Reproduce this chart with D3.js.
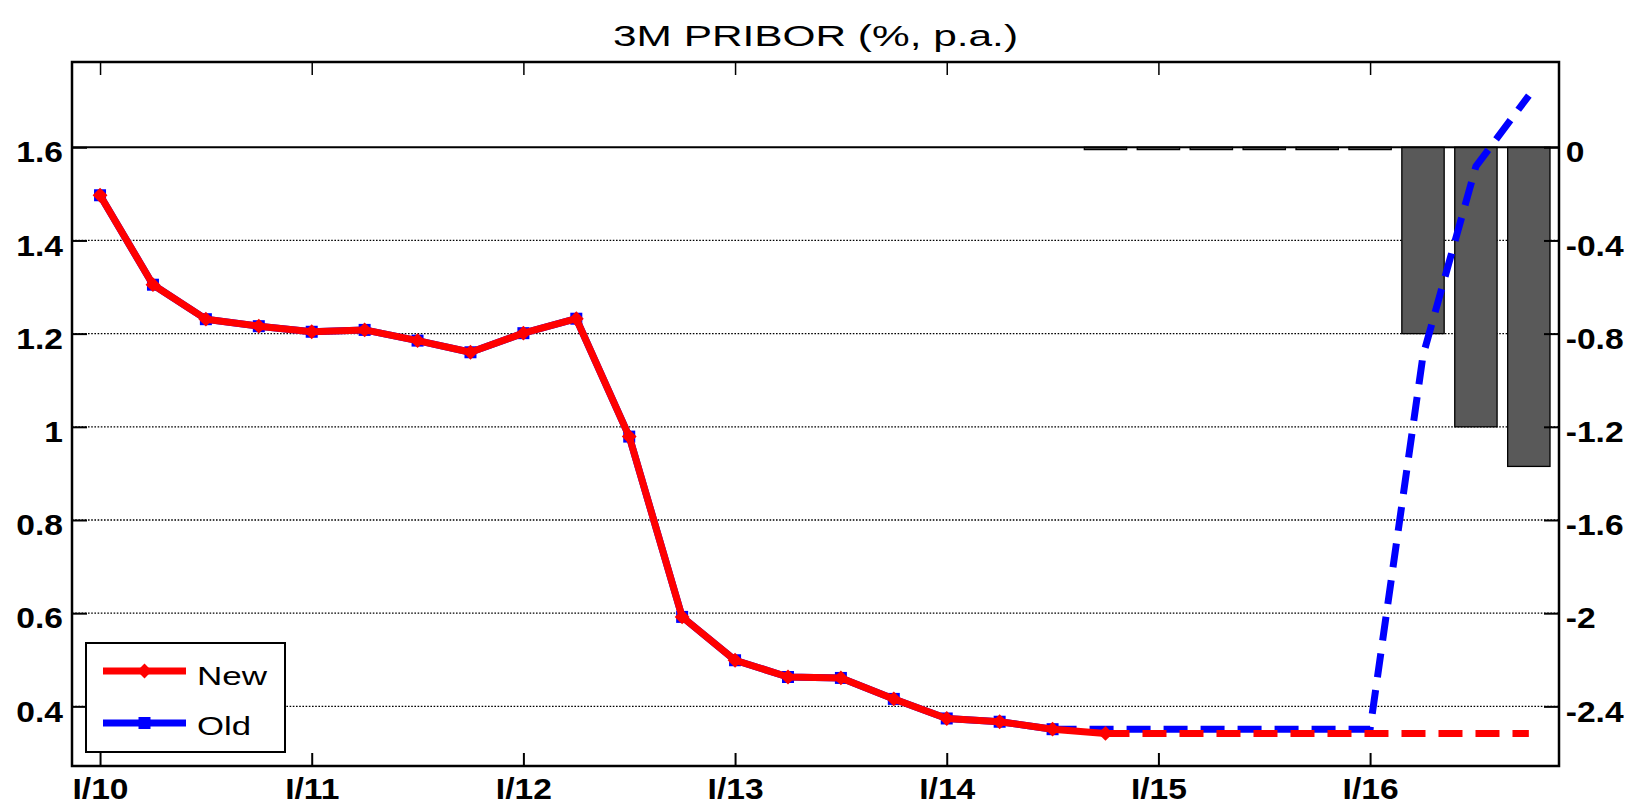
<!DOCTYPE html>
<html><head><meta charset="utf-8">
<script src="https://cdn.jsdelivr.net/npm/d3@7"></script>
<style>body{margin:0;background:#fff}</style>
</head><body><svg id="c" width="1633" height="805"></svg>
<script>
// ---- data ----
const quarterLabels = ["I/10","II/10","III/10","IV/10","I/11","II/11","III/11","IV/11",
  "I/12","II/12","III/12","IV/12","I/13","II/13","III/13","IV/13","I/14","II/14","III/14","IV/14",
  "I/15","II/15","III/15","IV/15","I/16","II/16","III/16","IV/16"];
const xTickQuarters = [0,4,8,12,16,20,24];
const xTickLabels = ["I/10","I/11","I/12","I/13","I/14","I/15","I/16"];
const leftTicks = [0.4,0.6,0.8,1.0,1.2,1.4,1.6];
const leftTickLabels = ["0.4","0.6","0.8","1","1.2","1.4","1.6"];
const rightTicks = [-2.4,-2.0,-1.6,-1.2,-0.8,-0.4,0];
const rightTickLabels = ["-2.4","-2","-1.6","-1.2","-0.8","-0.4","0"];

// New forecast: history (solid, markers) from I/10, projection (dashed) from IV/14
const newSolidStart = 0;
const newSolid = [1.497,1.305,1.231,1.216,1.204,1.208,1.185,1.160,1.201,1.232,
  0.979,0.592,0.499,0.463,0.461,0.416,0.374,0.367,0.351,0.342];
const newDashStart = 19;
const newDash = [0.342,0.342,0.342,0.342,0.342,0.342,0.342,0.342,0.342];
// Old forecast
const oldSolidStart = 0;
const oldSolid = [1.497,1.305,1.231,1.216,1.204,1.208,1.185,1.160,1.201,1.232,
  0.979,0.592,0.499,0.463,0.461,0.416,0.374,0.367,0.351];
const oldDashStart = 18;
const oldDash = [0.351,0.351,0.351,0.351,0.351,0.351,0.351,1.153,1.559,1.711];
// Difference bars (right axis)
const barStart = 19;
const barValues = [-0.01,-0.01,-0.01,-0.01,-0.01,-0.01,-0.80,-1.20,-1.37];

const seriesNames = ["New","Old"];
const titleText = "3M PRIBOR (%, p.a.)";

// ---- layout ----
const svg = d3.select("#c");
const L = 72, R = 1559, T = 62, B = 766;
const x = d3.scaleLinear().domain([-0.53, 27.57]).range([L, R]);
const y = d3.scaleLinear().domain([0.272, 1.783]).range([B, T]);
const yR = d3.scaleLinear().domain([-2.656, 0.366]).range([B, T]);
const RED = "#ff0000", BLUE = "#0000ff";
const FONT = "'Liberation Sans', Arial, Helvetica, sans-serif";

// grid (dotted)
svg.append("g").selectAll("line").data(leftTicks.filter(d => d < 1.6)).join("line")
  .attr("x1", L).attr("x2", R).attr("y1", d => y(d)).attr("y2", d => y(d))
  .attr("stroke", "#000").attr("stroke-width", 1.3).attr("stroke-dasharray", "1.6,1.6");

// bars
const step = x(1) - x(0);
const bw = step * 0.8;
svg.append("g").selectAll("rect").data(barValues.map((v, k) => ({i: barStart + k, v}))).join("rect")
  .attr("x", d => x(d.i) - bw / 2).attr("width", bw)
  .attr("y", d => yR(Math.max(0, d.v))).attr("height", d => Math.abs(yR(d.v) - yR(0)))
  .attr("fill", "#595959").attr("stroke", "#000").attr("stroke-width", 1.3);

// zero line of right axis
svg.append("line").attr("x1", L).attr("x2", R).attr("y1", yR(0)).attr("y2", yR(0))
  .attr("stroke", "#000").attr("stroke-width", 2);

const line = d3.line().x(d => x(d.i)).y(d => y(d.v));
const toPts = (arr, s) => arr.map((v, k) => ({i: s + k, v}));

function drawLine(pts, color, dashed) {
  svg.append("path").datum(pts).attr("d", line).attr("fill", "none")
    .attr("stroke", color).attr("stroke-width", 7)
    .attr("stroke-linejoin", "round").attr("stroke-linecap", dashed ? "butt" : "round")
    .attr("stroke-dasharray", dashed ? "24,13" : null);
}
const sq = d3.symbol(d3.symbolSquare, 144);
const dia = d3.symbol(d3.symbolSquare, 110);

// Old
drawLine(toPts(oldSolid, oldSolidStart), BLUE, false);
svg.append("g").selectAll("path").data(toPts(oldSolid, oldSolidStart)).join("path")
  .attr("d", sq).attr("transform", d => `translate(${x(d.i)},${y(d.v)})`).attr("fill", BLUE);
drawLine(toPts(oldDash, oldDashStart), BLUE, true);
// New
drawLine(toPts(newDash, newDashStart), RED, true);
drawLine(toPts(newSolid, newSolidStart), RED, false);
svg.append("g").selectAll("path").data(toPts(newSolid, newSolidStart)).join("path")
  .attr("d", dia).attr("transform", d => `translate(${x(d.i)},${y(d.v)}) rotate(45)`).attr("fill", RED);

// axes
function styleAxis(g, tickW) {
  g.select(".domain").remove();
  g.selectAll(".tick line").attr("stroke", "#000").attr("stroke-width", tickW);
  g.selectAll(".tick text").attr("font-family", FONT).attr("font-size", 30)
    .attr("font-weight", "bold").attr("fill", "#000").attr("transform", "scale(1.12,1)");
}
const gL = svg.append("g").attr("transform", `translate(${L},0)`)
  .call(d3.axisLeft(y).tickValues(leftTicks).tickFormat((d, i) => leftTickLabels[i])
    .tickSizeInner(-15).tickSizeOuter(0).tickPadding(8));
styleAxis(gL, 2); gL.selectAll(".tick text").attr("dy", "0.49em");

const gR = svg.append("g").attr("transform", `translate(${R},0)`)
  .call(d3.axisRight(yR).tickValues(rightTicks).tickFormat((d, i) => rightTickLabels[i])
    .tickSizeInner(-15).tickSizeOuter(0).tickPadding(6));
styleAxis(gR, 2); gR.selectAll(".tick text").attr("dy", "0.49em");

const gB = svg.append("g").attr("transform", `translate(0,${B})`)
  .call(d3.axisBottom(x).tickValues(xTickQuarters).tickFormat((d, i) => xTickLabels[i])
    .tickSizeInner(-13).tickSizeOuter(0).tickPadding(12));
styleAxis(gB, 2);

const gT = svg.append("g").attr("transform", `translate(0,${T})`)
  .call(d3.axisTop(x).tickValues(xTickQuarters).tickFormat(() => "")
    .tickSizeInner(-13).tickSizeOuter(0));
styleAxis(gT, 1.5);

// frame
svg.append("rect").attr("x", L).attr("y", T).attr("width", R - L).attr("height", B - T)
  .attr("fill", "none").attr("stroke", "#000").attr("stroke-width", 2.5);

// title
svg.append("text").attr("x", (L + R) / 2).attr("y", 46).attr("text-anchor", "middle")
  .attr("font-family", FONT).attr("font-size", 29.5).attr("fill", "#000")
  .attr("textLength", 405).attr("lengthAdjust", "spacingAndGlyphs").text(titleText);

// legend
const lg = svg.append("g");
lg.append("rect").attr("x", 86).attr("y", 643).attr("width", 199).attr("height", 109)
  .attr("fill", "#fff").attr("stroke", "#000").attr("stroke-width", 2);
const legItems = [
  {name: seriesNames[0], color: RED, y: 671, sym: dia, rot: 45, base: 685, tl: 70},
  {name: seriesNames[1], color: BLUE, y: 723, sym: sq, rot: 0, base: 735, tl: 54}
];
legItems.forEach(it => {
  lg.append("line").attr("x1", 103).attr("x2", 186).attr("y1", it.y).attr("y2", it.y)
    .attr("stroke", it.color).attr("stroke-width", 7);
  lg.append("path").attr("d", it.sym).attr("fill", it.color)
    .attr("transform", `translate(144.5,${it.y}) rotate(${it.rot})`);
  lg.append("text").attr("x", 197).attr("y", it.base).attr("font-family", FONT)
    .attr("font-size", 26.5).attr("fill", "#000")
    .attr("textLength", it.tl).attr("lengthAdjust", "spacingAndGlyphs").text(it.name);
});
</script></body></html>
